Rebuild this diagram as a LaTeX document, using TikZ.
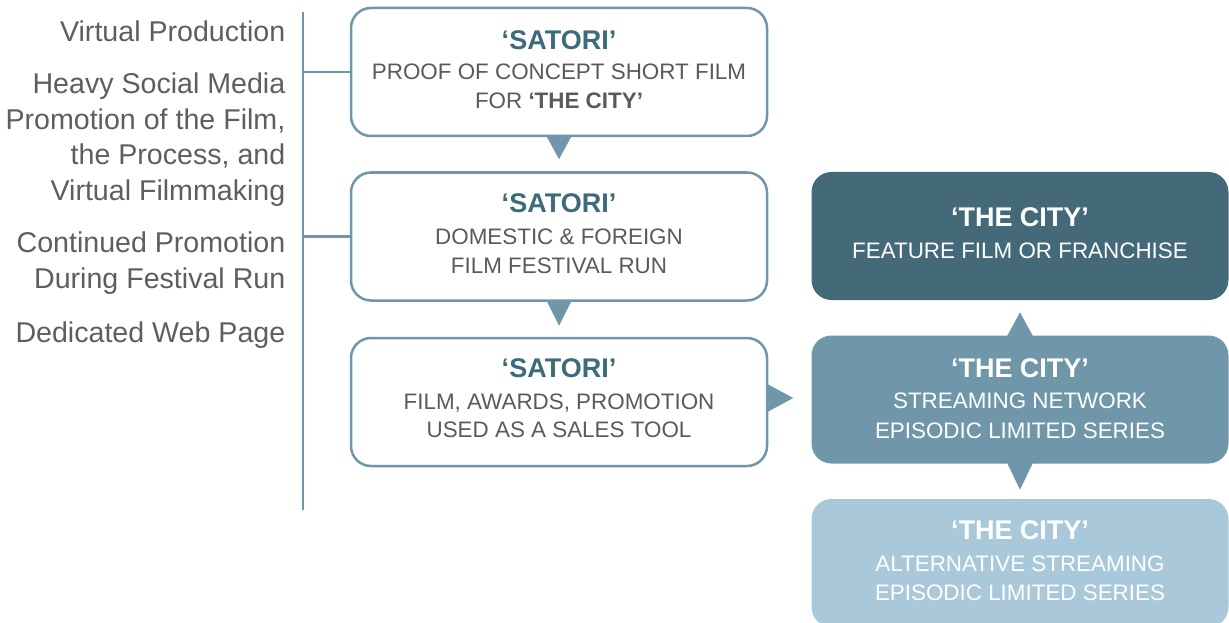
\documentclass[tikz,border=0pt]{standalone}
\usepackage{fontspec}
\setmainfont{Liberation Sans}
\usetikzlibrary{calc}

\definecolor{edgeblue}{HTML}{6F97A9}
\definecolor{titleteal}{HTML}{3E6B7A}
\definecolor{darkbox}{HTML}{446979}
\definecolor{midbox}{HTML}{6F97A9}
\definecolor{lightbox}{HTML}{A9C9DB}
\definecolor{sidegray}{HTML}{5E5E5E}
\definecolor{boxgray}{HTML}{5A5A5A}

\tikzset{
  outlinebox/.style={draw=edgeblue, line width=2.5pt, rounded corners=20pt, fill=white,
    minimum width=416pt, minimum height=128pt, inner sep=0pt},
  solidbox/.style={rounded corners=20pt, minimum width=417pt, minimum height=128pt,
    inner sep=0pt, draw=none},
  boxtitle/.style={anchor=base, inner sep=0pt, font=\fontsize{27}{32}\selectfont\bfseries},
  boxline/.style={anchor=base, inner sep=0pt, font=\fontsize{22.4}{29}\selectfont},
  sidetext/.style={anchor=base east, inner sep=0pt, text=sidegray, font=\fontsize{28.6}{35}\selectfont},
  linkline/.style={draw=edgeblue, line width=2.5pt},
}

\begin{document}
\begin{tikzpicture}[x=1pt,y=-1pt]
\useasboundingbox (0,0) rectangle (1229,623);
\clip (0,0) rectangle (1229,623);

% side notes
\node[sidetext] (n1) at (285.5,41.7) {Virtual Production};
\node[sidetext] (n2) at (285.5,93.5) {Heavy Social Media};
\node[sidetext] (n3) at (285.5,129.2) {Promotion of the Film,};
\node[sidetext] (n4) at (285.5,164.9) {the Process, and};
\node[sidetext] (n5) at (285.5,200.6) {Virtual Filmmaking};
\node[sidetext] (n6) at (285.5,252) {Continued Promotion};
\node[sidetext] (n7) at (285.5,288) {During Festival Run};
\node[sidetext] (n8) at (285.5,342) {Dedicated Web Page};

% short film stages
\node[outlinebox] (b1) at (559,72) {};
\node[outlinebox] (b2) at (559,236.5) {};
\node[outlinebox] (b3) at (559,402) {};

% feature / series outcomes
\node[solidbox, fill=darkbox] (r1) at (1020,236) {};
\node[solidbox, fill=midbox] (r2) at (1020,399.5) {};
\node[solidbox, fill=lightbox] (r3) at (1020,563) {};

% timeline spine and branches
\coordinate (spinetop) at (303,12);
\coordinate (spinebot) at (303,510);
\draw[linkline] (spinetop) -- (spinebot);
\draw[linkline] (b1.west -| spinetop) -- (b1.west);
\draw[linkline] (b2.west -| spinetop) -- (b2.west);

% pointers between stages
\fill[edgeblue] ($(b1.south)+(-12.5,-1)$) -- ($(b1.south)+(12.5,-1)$) -- ($(b1.south)+(0,22)$) -- cycle;
\fill[edgeblue] ($(b2.south)+(-12.5,-1)$) -- ($(b2.south)+(12.5,-1)$) -- ($(b2.south)+(0,24)$) -- cycle;
\fill[edgeblue] ($(b3.east)+(-1,-18)$) -- ($(b3.east)+(-1,10)$) -- ($(b3.east)+(25,-4)$) -- cycle;
\fill[midbox] ($(r2.north)+(-13,1)$) -- ($(r2.north)+(13,1)$) -- ($(r2.north)+(0,-23)$) -- cycle;
\fill[midbox] ($(r2.south)+(-13,-1)$) -- ($(r2.south)+(13,-1)$) -- ($(r2.south)+(0,26)$) -- cycle;

% texts of the stage boxes
\node[boxtitle, text=titleteal] (b1t) at ($(b1.north)+(0,43)$) {‘SATORI’};
\node[boxline, text=boxgray] (b1a) at ($(b1.north)+(0,73)$) {PROOF OF CONCEPT SHORT FILM};
\node[boxline, text=boxgray] (b1b) at ($(b1.north)+(0,102)$) {FOR \textbf{‘THE CITY’}};

\node[boxtitle, text=titleteal] (b2t) at ($(b2.north)+(0,41)$) {‘SATORI’};
\node[boxline, text=boxgray] (b2a) at ($(b2.north)+(0,73)$) {DOMESTIC \& FOREIGN};
\node[boxline, text=boxgray] (b2b) at ($(b2.north)+(0,102)$) {FILM FESTIVAL RUN};

\node[boxtitle, text=titleteal] (b3t) at ($(b3.north)+(0,41)$) {‘SATORI’};
\node[boxline, text=boxgray] (b3a) at ($(b3.north)+(0,73)$) {FILM, AWARDS, PROMOTION};
\node[boxline, text=boxgray] (b3b) at ($(b3.north)+(0,101)$) {USED AS A SALES TOOL};

% texts of the outcome boxes
\node[boxtitle, text=white] (r1t) at ($(r1.north)+(0,55)$) {‘THE CITY’};
\node[boxline, text=white] (r1a) at ($(r1.north)+(0,87)$) {FEATURE FILM OR FRANCHISE};

\node[boxtitle, text=white] (r2t) at ($(r2.north)+(0,42)$) {‘THE CITY’};
\node[boxline, text=white] (r2a) at ($(r2.north)+(0,73.5)$) {STREAMING NETWORK};
\node[boxline, text=white] (r2b) at ($(r2.north)+(0,103)$) {EPISODIC LIMITED SERIES};

\node[boxtitle, text=white] (r3t) at ($(r3.north)+(0,41)$) {‘THE CITY’};
\node[boxline, text=white] (r3a) at ($(r3.north)+(0,73)$) {ALTERNATIVE STREAMING};
\node[boxline, text=white] (r3b) at ($(r3.north)+(0,102)$) {EPISODIC LIMITED SERIES};
\end{tikzpicture}
\end{document}
